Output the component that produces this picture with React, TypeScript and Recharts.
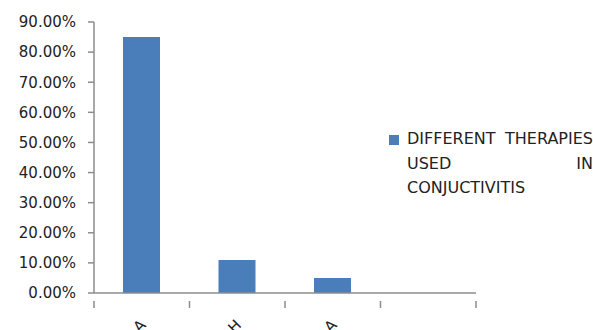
import React from 'react';
import { BarChart, Bar, XAxis, YAxis } from 'recharts';

const categories = ['A', 'H', 'A', ''];
const values = [0.85, 0.11, 0.05, null];
const yTicks = [0, 0.1, 0.2, 0.3, 0.4, 0.5, 0.6, 0.7, 0.8, 0.9];
const seriesName = 'DIFFERENT THERAPIES USED IN CONJUCTIVITIS';

const data = categories.map((c, i) => ({ name: c, value: values[i] }));

const FONT = '"DejaVu Sans", Verdana, sans-serif';
const AXIS = '#8c8c8c';
const BAR = '#4a7ebb';
const TEXT = '#222';

const CHART_W = 593;
const CHART_H = 330;
const MARGIN = { top: 22, right: 117, bottom: 0, left: 0 };
const Y_W = 94;
const PLOT_W = CHART_W - MARGIN.left - MARGIN.right - Y_W;

const XTick = (props: any) => {
  const { x, y, payload, index } = props;
  const band = PLOT_W / categories.length;
  return (
    <g>
      <line x1={x - band / 2} y1={y} x2={x - band / 2} y2={y + 7} stroke={AXIS} strokeWidth={1.5} />
      {index === categories.length - 1 && (
        <line x1={x + band / 2} y1={y} x2={x + band / 2} y2={y + 7} stroke={AXIS} strokeWidth={1.5} />
      )}
      <text
        x={x + 5}
        y={y + 25}
        transform={`rotate(-45 ${x + 5} ${y + 25})`}
        textAnchor="end"
        fontFamily={FONT}
        fontSize={15}
        fill={TEXT}
      >
        {payload.value}
      </text>
    </g>
  );
};

const LegendBox = () => (
  <div
    style={{
      position: 'absolute',
      left: 389,
      top: 127,
      display: 'flex',
      alignItems: 'flex-start',
      fontFamily: FONT,
      fontSize: 16,
      color: TEXT,
    }}
  >
    <div style={{ width: 10, height: 10, background: BAR, marginTop: 8, marginRight: 8, flex: 'none' }} />
    <div style={{ width: 186, textAlign: 'justify', lineHeight: '24.5px' }}>{seriesName}</div>
  </div>
);

export default function App() {
  return (
    <div style={{ position: 'absolute', left: 0, top: 0, width: CHART_W, height: CHART_H, background: '#fff' }}>
      <BarChart width={CHART_W} height={CHART_H} data={data} margin={MARGIN}>
        <XAxis
          dataKey="name"
          height={37}
          tickLine={false}
          axisLine={{ stroke: AXIS, strokeWidth: 1.5 }}
          tick={<XTick />}
          interval={0}
        />
        <YAxis
          width={Y_W}
          domain={[0, 0.9]}
          ticks={yTicks}
          interval={0}
          tickFormatter={(v: number) => `${(v * 100).toFixed(2)}%`}
          axisLine={{ stroke: AXIS, strokeWidth: 1.5 }}
          tickLine={{ stroke: AXIS, strokeWidth: 1.5 }}
          tickSize={6}
          tickMargin={12}
          tick={{ fontFamily: FONT, fontSize: 15, fill: TEXT }}
        />
        <Bar dataKey="value" name={seriesName} fill={BAR} barSize={37} isAnimationActive={false} />
      </BarChart>
      <LegendBox />
    </div>
  );
}
